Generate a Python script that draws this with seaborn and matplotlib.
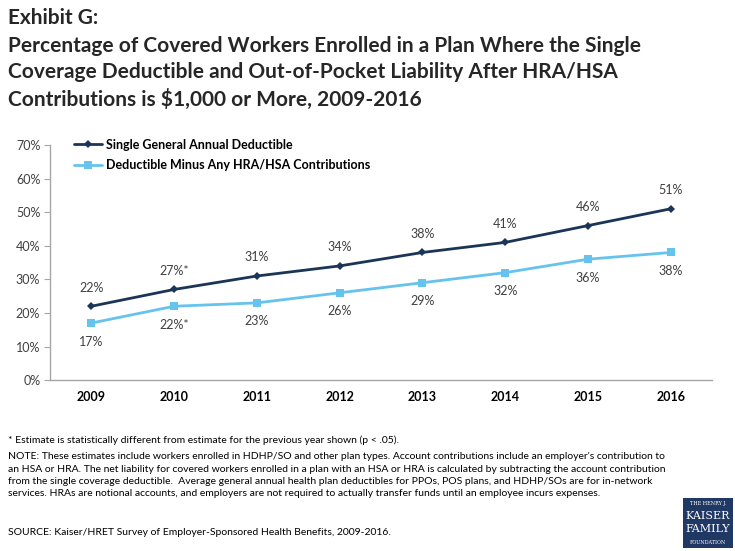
import matplotlib
matplotlib.use("Agg")
import matplotlib.pyplot as plt
import seaborn as sns
import pandas as pd
from matplotlib.patches import Rectangle

# ── Data ──────────────────────────────────────────────────────────────────
YEARS = ["2009", "2010", "2011", "2012", "2013", "2014", "2015", "2016"]
DEDUCTIBLE = [22, 27, 31, 34, 38, 41, 46, 51]
NET_OF_ACCOUNT = [17, 22, 23, 26, 29, 32, 36, 38]
DEDUCTIBLE_LABELS = ["22%", "27%*", "31%", "34%", "38%", "41%", "46%", "51%"]
NET_LABELS = ["17%", "22%*", "23%", "26%", "29%", "32%", "36%", "38%"]
SERIES = ["Single General Annual Deductible", "Deductible Minus Any HRA/HSA Contributions"]
Y_TICKS = [0, 10, 20, 30, 40, 50, 60, 70]
TITLE_LINES = [
    "Exhibit G:",
    "Percentage of Covered Workers Enrolled in a Plan Where the Single",
    "Coverage Deductible and Out-of-Pocket Liability After HRA/HSA",
    "Contributions is $1,000 or More, 2009-2016",
]

DARK = "#1B3556"
LIGHT = "#66C3EE"
TEXT = "#404040"

df = pd.DataFrame({
    "year": YEARS * 2,
    "pos": list(range(len(YEARS))) * 2,
    "value": DEDUCTIBLE + NET_OF_ACCOUNT,
    "series": [SERIES[0]] * len(YEARS) + [SERIES[1]] * len(YEARS),
})

sns.set_style("white")
plt.rcParams["font.family"] = ["Lato", "DejaVu Sans"]

fig = plt.figure(figsize=(7.35, 5.51), dpi=100)
ax = fig.add_axes([0.068, 0.310, 0.901, 0.427])

sns.lineplot(
    data=df, x="pos", y="value", hue="series", style="series",
    palette={SERIES[0]: DARK, SERIES[1]: LIGHT},
    markers={SERIES[0]: "D", SERIES[1]: "s"},
    dashes=False, linewidth=2.0, markersize=6, markeredgewidth=0,
    ax=ax,
)
for line in ax.lines:
    if line.get_marker() == "D":
        line.set_markersize(4.5)

# ── Data labels ───────────────────────────────────────────────────────────
for i, (v, lab) in enumerate(zip(DEDUCTIBLE, DEDUCTIBLE_LABELS)):
    ax.annotate(lab, (i, v), xytext=(0, 9), textcoords="offset points",
                ha="center", va="bottom", fontsize=9, color=TEXT)
for i, (v, lab) in enumerate(zip(NET_OF_ACCOUNT, NET_LABELS)):
    ax.annotate(lab, (i, v), xytext=(0, -9), textcoords="offset points",
                ha="center", va="top", fontsize=9, color=TEXT)

# ── Axes styling ──────────────────────────────────────────────────────────
ax.set_xlim(-0.5, len(YEARS) - 0.5)
ax.set_ylim(0, 70)
ax.set_xticks(range(len(YEARS)))
ax.set_xticklabels(YEARS, fontsize=9, fontweight="bold", color="black")
ax.set_xticks([i - 0.5 for i in range(len(YEARS) + 1)], minor=True)
ax.tick_params(axis="x", which="major", length=0, pad=8)
ax.tick_params(axis="x", which="minor", length=4, color="#A6A6A6", direction="out")
ax.set_yticks(Y_TICKS)
ax.set_yticklabels([f"{t}%" for t in Y_TICKS], fontsize=9, color=TEXT)
ax.tick_params(axis="y", length=4, color="#A6A6A6", direction="out", left=True, pad=3)
ax.set_xlabel("")
ax.set_ylabel("")
for side in ["top", "right"]:
    ax.spines[side].set_visible(False)
for side in ["left", "bottom"]:
    ax.spines[side].set_color("#A6A6A6")
    ax.spines[side].set_linewidth(1)

leg = ax.legend(loc="upper left", bbox_to_anchor=(0.02, 1.075), frameon=False,
                fontsize=9, handlelength=2.2, handletextpad=0.3, labelspacing=0.7)
for t in leg.get_texts():
    t.set_fontweight("bold")
    t.set_color("black")

# ── Title and notes ───────────────────────────────────────────────────────
for y, line in zip([0.967, 0.9165, 0.869, 0.820], TITLE_LINES):
    fig.text(0.011, y, line, fontsize=15, fontweight="bold", va="center")

fig.text(0.011, 0.2015, "* Estimate is statistically different from estimate for the previous year shown (p < .05).",
         fontsize=7.5, color="black", va="center")
note = ("NOTE: These estimates include workers enrolled in HDHP/SO and other plan types. Account contributions include an employer's contribution to\n"
        "an HSA or HRA. The net liability for covered workers enrolled in a plan with an HSA or HRA is calculated by subtracting the account contribution\n"
        "from the single coverage deductible.  Average general annual health plan deductibles for PPOs, POS plans, and HDHP/SOs are for in-network\n"
        "services. HRAs are notional accounts, and employers are not required to actually transfer funds until an employee incurs expenses.")
fig.text(0.011, 0.179, note, fontsize=7.5, color="black", va="top", linespacing=1.45)
fig.text(0.011, 0.033, "SOURCE: Kaiser/HRET Survey of Employer-Sponsored Health Benefits, 2009-2016.",
         fontsize=7.5, color="black", va="center")

# ── Logo ──────────────────────────────────────────────────────────────────
logo = fig.add_axes([0.929, 0.005, 0.068, 0.092])
logo.add_patch(Rectangle((0, 0), 1, 1, color="#1F3864"))
logo.set_xlim(0, 1)
logo.set_ylim(0, 1)
logo.axis("off")
logo.text(0.5, 0.88, "THE HENRY J.", color="white", fontsize=3.5, ha="center", va="center", family="DejaVu Serif")
logo.text(0.5, 0.64, "KAISER", color="white", fontsize=8, ha="center", va="center", family="DejaVu Serif")
logo.text(0.5, 0.37, "FAMILY", color="white", fontsize=8, ha="center", va="center", family="DejaVu Serif")
logo.text(0.5, 0.12, "FOUNDATION", color="white", fontsize=3.5, ha="center", va="center", family="DejaVu Serif")

fig.savefig("out.png", dpi=100)
